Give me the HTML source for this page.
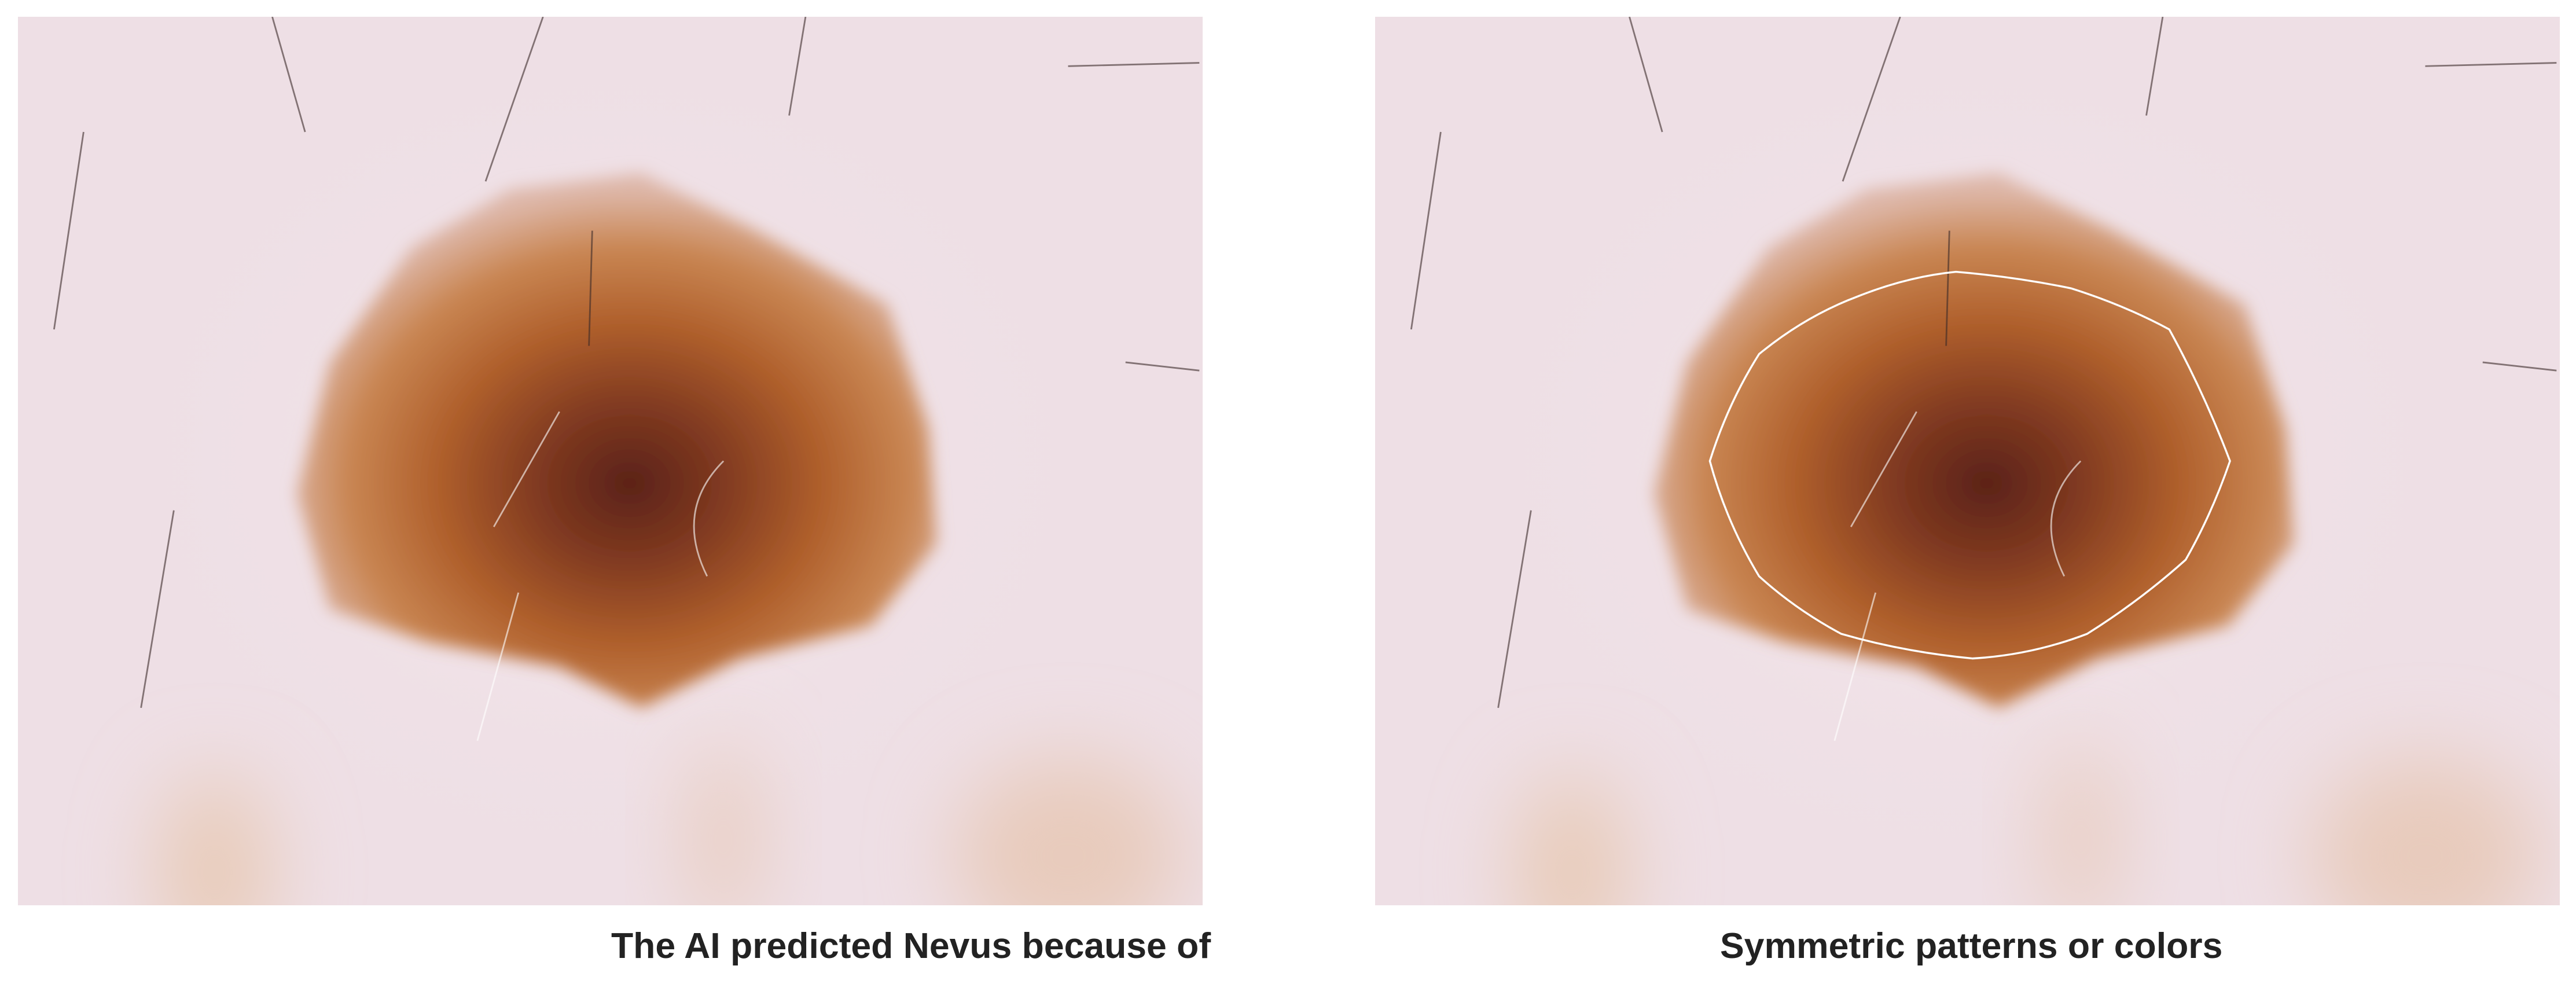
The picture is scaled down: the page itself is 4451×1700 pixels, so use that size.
<!DOCTYPE html>
<html><head><meta charset="utf-8"><style>
html,body{margin:0;padding:0;background:#fff;width:4451px;height:1700px;overflow:hidden;position:relative;font-family:"Liberation Sans",sans-serif}
.panel{position:absolute;top:29px;width:2047px;height:1535px}
.cap{position:absolute;top:1598px;font-weight:bold;font-size:62.5px;color:#222;white-space:nowrap}
</style></head><body>
<svg width="0" height="0" style="position:absolute"><defs>
<radialGradient id="les" cx="0.52" cy="0.58" r="0.55">
<stop offset="0" stop-color="#5a2218"/><stop offset="0.25" stop-color="#7e3820"/>
<stop offset="0.55" stop-color="#b0602c"/><stop offset="0.8" stop-color="#c98653"/>
<stop offset="1" stop-color="#deb8aa"/></radialGradient>
<radialGradient id="halo" cx="0.5" cy="0.5" r="0.5"><stop offset="0" stop-color="#f6eaee"/><stop offset="1" stop-color="#eedfe5" stop-opacity="0"/></radialGradient>
<filter id="bl" x="-20%" y="-20%" width="140%" height="140%"><feGaussianBlur stdDeviation="5"/></filter>
<filter id="bl2" x="-100%" y="-100%" width="300%" height="300%"><feGaussianBlur stdDeviation="25"/></filter>
<g id="skin">
<rect width="722" height="540" fill="#eedfe5"/>
<ellipse cx="360" cy="270" rx="320" ry="270" fill="url(#halo)"/>
<ellipse cx="120" cy="520" rx="35" ry="60" fill="#e8cbb8" filter="url(#bl2)"/>
<ellipse cx="640" cy="510" rx="70" ry="60" fill="#e8cbbc" filter="url(#bl2)"/>
<ellipse cx="430" cy="500" rx="20" ry="60" fill="#e8cbbc" filter="url(#bl2)"/>
<path d="M240,140 L300,105 L380,95 L450,130 L530,175 L555,250 L560,320 L520,370 L440,390 L380,420 L330,395 L250,380 L190,360 L170,290 L190,210 Z" fill="url(#les)" filter="url(#bl)"/>
<g stroke="#3a2a28" stroke-width="1" fill="none" opacity="0.6">
<path d="M155,0 L175,70"/><path d="M320,0 L285,100"/><path d="M480,0 L470,60"/><path d="M40,70 L22,190"/><path d="M95,300 L75,420"/><path d="M640,30 L720,28"/><path d="M350,130 L348,200"/><path d="M675,210 L720,215"/>
</g>
<g stroke="#fff" stroke-width="1" fill="none" opacity="0.6"><path d="M330,240 L290,310"/><path d="M305,350 L280,440"/><path d="M430,270 Q400,300 420,340"/></g>
</g>
</defs></svg>
<svg class="panel" style="left:31px" viewBox="0 0 722 540" preserveAspectRatio="none"><use href="#skin"/></svg>
<svg class="panel" style="left:2376px" viewBox="0 0 722 540" preserveAspectRatio="none"><use href="#skin"/>
<path d="M204,270 Q215,235 234,205 Q262,182 294,170 Q324,158 354,155 Q390,158 424,165 Q456,175 484,190 Q505,228 521,270 Q510,302 494,330 Q466,355 434,375 Q400,388 364,390 Q322,386 284,375 Q256,360 234,340 Q214,307 204,270 Z" fill="none" stroke="#fff" stroke-width="1.2"/></svg>
<div class="cap" style="left:1056px">The AI predicted Nevus because of</div>
<div class="cap" style="left:2972px">Symmetric patterns or colors</div>
</body></html>
